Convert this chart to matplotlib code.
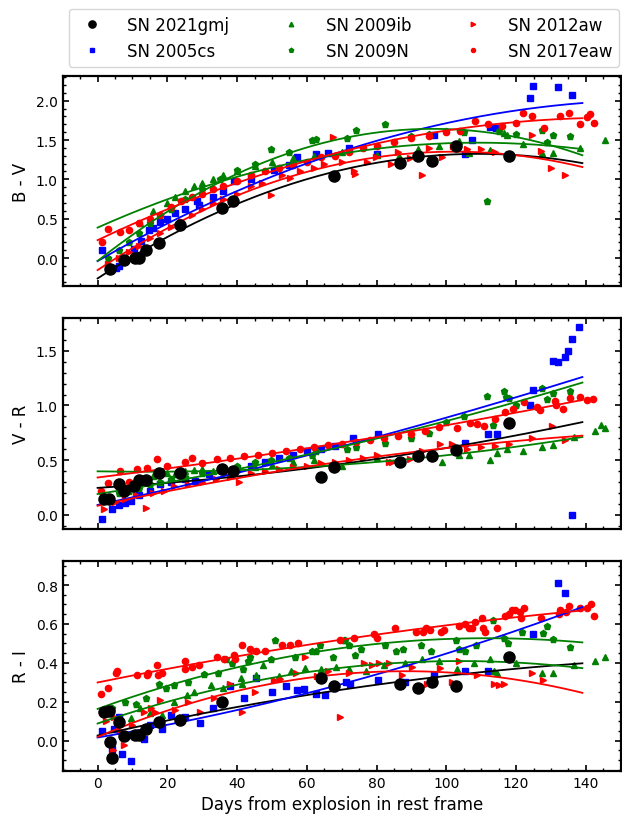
import numpy as np
import matplotlib
matplotlib.use("Agg")
import matplotlib.pyplot as plt
from matplotlib.ticker import AutoMinorLocator, MultipleLocator

# ---------------- data ----------------
names = ["SN 2021gmj", "SN 2005cs", "SN 2009ib", "SN 2009N", "SN 2012aw", "SN 2017eaw"]
colors = ["black", "blue", "green", "green", "red", "red"]
markers = ["o", "s", "^", "p", ">", "o"]

# SN 2021gmj
t_gmj_bv = [3.5, 7.5, 10.6, 11.8, 13.8, 17.6, 23.6, 35.6, 38.7, 67.7, 86.8, 91.8, 95.8, 102.8, 117.9]
bv_gmj = [-0.14, -0.03, 0.0, 0.0, 0.10, 0.19, 0.42, 0.63, 0.72, 1.04, 1.21, 1.30, 1.23, 1.43, 1.30]
t_gmj_vr = [1.8, 3.2, 6.1, 7.5, 10.4, 11.8, 13.8, 17.6, 23.6, 35.6, 38.7, 64.2, 67.7, 86.8, 91.8, 95.8, 102.8, 117.9]
vr_gmj = [0.147, 0.147, 0.285, 0.22, 0.26, 0.32, 0.32, 0.38, 0.38, 0.42, 0.40, 0.35, 0.44, 0.48, 0.54, 0.54, 0.59, 0.84]
t_gmj_ri = [1.8, 3.2, 3.5, 4.0, 6.1, 7.5, 10.6, 11.8, 13.8, 17.6, 23.6, 35.6, 64.2, 67.7, 86.8, 91.8, 95.8, 102.8, 117.9]
ri_gmj = [0.146, 0.155, -0.007, -0.088, 0.095, 0.024, 0.027, 0.027, 0.058, 0.095, 0.109, 0.20, 0.32, 0.28, 0.29, 0.27, 0.30, 0.28, 0.43]

# SN 2005cs
t_05cs_bv = [1.3, 5.2, 6.1, 8.0, 10.5, 12.5, 14.7, 16.0, 18.0, 20.0, 22.3, 25.0, 28.5, 29.0, 33.0, 36.0, 39.0,
             44.0, 50.5, 55.0, 57.2, 62.5, 66.0, 72.0, 80.0, 96.4, 105.4, 107.3, 112.6, 114.2, 123.9, 124.8, 132.0, 135.9]
bv_05cs = [0.10, -0.13, -0.10, -0.02, 0.12, 0.22, 0.35, 0.38, 0.46, 0.50, 0.57, 0.62, 0.72, 0.68, 0.78, 0.85, 0.98,
           1.00, 1.12, 1.18, 1.28, 1.32, 1.33, 1.40, 1.32, 1.56, 1.32, 1.50, 1.66, 1.65, 2.04, 2.19, 2.18, 2.07]
t_05cs_vr = [1.3, 4.2, 6.1, 8, 9.5, 12, 15, 18, 21, 25, 28, 32, 36, 40, 44, 48, 52, 56, 60, 64, 68, 73.3, 80.4,
             105.4, 112, 114.5, 124, 124.8, 130.7, 132, 134, 134.9, 135.9, 136, 137.9]
vr_05cs = [-0.04, 0.05, 0.09, 0.11, 0.13, 0.18, 0.22, 0.28, 0.30, 0.33, 0.31, 0.37, 0.40, 0.42, 0.45, 0.48, 0.52, 0.55,
           0.58, 0.60, 0.63, 0.70, 0.74, 0.66, 0.74, 0.74, 1.00, 1.14, 1.41, 1.40, 1.44, 1.50, 1.61, 0.003, 1.72]
t_05cs_ri = [1.3, 4.2, 4.7, 6.0, 7.1, 9.6, 11, 13.3, 15, 18.5, 21, 25, 29.5, 33, 38.1, 42, 45.3, 50, 54, 57.2,
             59.1, 62.5, 65.3, 67.7, 71.3, 72.5, 80.4, 88, 96.4, 105.4, 112, 124.7, 132, 134]
ri_05cs = [0.05, -0.04, 0.06, 0.12, -0.07, -0.105, 0.03, 0.01, 0.08, 0.06, 0.13, 0.12, 0.09, 0.17, 0.28, 0.22, 0.32,
           0.25, 0.28, 0.26, 0.265, 0.24, 0.236, 0.27, 0.30, 0.29, 0.31, 0.30, 0.34, 0.36, 0.36, 0.55, 0.81, 0.76]

# SN 2009ib
t_09ib_bv = [12.3, 16, 20, 22.3, 25, 27.6, 30, 33, 36, 40, 45, 50, 56, 62, 70, 80, 86.3, 92, 98, 103.5,
             106.4, 112.6, 116.4, 117.4, 122, 127.4, 130.6, 138.4, 145.6]
bv_09ib = [0.44, 0.60, 0.70, 0.78, 0.85, 0.92, 0.95, 1.00, 1.05, 1.10, 1.17, 1.22, 1.27, 1.30, 1.35, 1.31, 1.30,
           1.38, 1.42, 1.49, 1.33, 1.37, 1.59, 1.56, 1.45, 1.34, 1.34, 1.40, 1.50]
t_09ib_vr = [12.3, 16, 20, 22.3, 25, 27.6, 30, 33, 36, 40, 45, 50, 56, 62, 70, 80, 86.3, 92, 98.8, 103.5,
             106.4, 112.6, 114.5, 117.4, 122, 127.4, 130.6, 136.5, 142.7, 144.4, 145.6]
vr_09ib = [0.33, 0.36, 0.38, 0.37, 0.40, 0.41, 0.42, 0.40, 0.43, 0.45, 0.44, 0.46, 0.48, 0.50, 0.45, 0.52, 0.50,
           0.53, 0.48, 0.55, 0.55, 0.50, 0.57, 0.60, 0.58, 0.62, 0.64, 0.71, 0.77, 0.82, 0.79]
t_09ib_ri = [9.5, 12.3, 15, 18.6, 22, 25.7, 27.6, 32.4, 36, 41, 41.5, 45.5, 47.5, 52, 55.5, 59.6, 64, 68.5, 72,
             77, 82, 88, 93, 98, 103, 108, 112.6, 113.6, 114.5, 120, 127.4, 130.6, 136.5, 142.7, 145.6]
ri_09ib = [0.117, 0.17, 0.14, 0.13, 0.20, 0.236, 0.25, 0.286, 0.27, 0.32, 0.29, 0.34, 0.39, 0.33, 0.36, 0.376,
           0.37, 0.38, 0.37, 0.36, 0.39, 0.40, 0.42, 0.41, 0.37, 0.40, 0.42, 0.36, 0.35, 0.40, 0.35, 0.35, 0.39,
           0.41, 0.43]

# SN 2009N
t_09N_bv = [3, 6, 9, 12, 15, 18, 21, 25, 30, 35, 40, 45, 49.6, 55, 61.5, 62.5, 71.5, 74, 82.5, 90, 95, 100,
            105, 111.7, 115, 120, 127.5, 128.9, 130.6, 135.5]
bv_09N = [0.0, 0.10, 0.20, 0.32, 0.45, 0.55, 0.62, 0.75, 0.88, 1.00, 1.12, 1.20, 1.39, 1.35, 1.50, 1.51, 1.53,
          1.63, 1.71, 1.55, 1.58, 1.62, 1.60, 0.73, 1.62, 1.58, 1.63, 1.48, 1.56, 1.55]
t_09N_vr = [3, 6, 9, 12, 15, 18, 21, 25, 30, 35, 40, 45, 49.6, 55, 61.5, 62.5, 71.5, 74, 82.5, 90, 95, 100,
            105, 111.7, 113.4, 116.4, 117, 117.9, 120, 127.4, 128.9, 130.6, 135.5]
vr_09N = [0.15, 0.20, 0.22, 0.25, 0.28, 0.30, 0.33, 0.35, 0.38, 0.42, 0.45, 0.48, 0.50, 0.52, 0.55, 0.58, 0.60,
          0.62, 0.66, 0.70, 0.75, 0.85, 0.90, 1.09, 0.82, 1.13, 1.08, 1.07, 1.00, 1.16, 1.06, 1.11, 1.13]
t_09N_ri = [4, 8, 11, 14, 17.6, 19.5, 22, 26, 30.5, 34.6, 36.7, 38.6, 41.7, 43, 43.6, 49.6, 51, 56.6, 61.5,
            62.5, 63.7, 67.5, 70.6, 70.8, 72, 73.9, 75.5, 82.5, 85.7, 87.6, 92.8, 95.6, 102.8, 103.5, 105.4,
            108.5, 113.4, 116.6, 117.6, 121.7, 127.6, 128.8, 130.6, 135.5]
ri_09N = [0.17, 0.20, 0.19, 0.22, 0.29, 0.27, 0.285, 0.30, 0.345, 0.35, 0.42, 0.40, 0.37, 0.41, 0.43, 0.42,
          0.52, 0.43, 0.46, 0.46, 0.49, 0.43, 0.52, 0.52, 0.49, 0.44, 0.47, 0.49, 0.46, 0.47, 0.49, 0.46,
          0.515, 0.47, 0.46, 0.49, 0.62, 0.53, 0.50, 0.56, 0.555, 0.59, 0.525, 0.48]

# SN 2012aw
t_12aw_bv = [3, 6, 9, 12, 15, 18, 21, 24, 27, 30, 33, 36, 40, 44, 47, 49.6, 53, 55.3, 58, 62, 65, 67.5, 70,
             73.5, 73.9, 77.3, 79.7, 84, 86, 89.7, 93, 95, 98.8, 102, 106, 110, 114, 118, 124.5, 127, 130, 134]
bv_12aw = [-0.08, 0.0, 0.08, 0.15, 0.25, 0.32, 0.40, 0.47, 0.55, 0.62, 0.70, 0.75, 0.82, 0.92, 0.95, 0.80, 1.05,
           1.02, 1.10, 1.15, 1.20, 1.54, 1.22, 1.10, 1.07, 1.22, 1.28, 1.20, 1.35, 1.27, 1.05, 1.40, 1.28, 1.42,
           1.38, 1.38, 1.35, 1.32, 1.56, 1.36, 1.15, 1.05]
t_12aw_vr = [1.8, 5, 8, 11, 13.8, 16, 19, 22, 26, 30, 34, 38, 40.5, 44, 48, 52, 56, 60, 64, 68, 72, 76, 80,
             83.5, 84.4, 89.7, 93, 98.3, 101.6, 106, 110, 114, 118, 124.6, 130.3, 134]
vr_12aw = [0.055, 0.12, 0.15, 0.18, 0.065, 0.20, 0.22, 0.26, 0.28, 0.30, 0.33, 0.35, 0.30, 0.38, 0.40, 0.42,
           0.44, 0.45, 0.47, 0.48, 0.50, 0.52, 0.55, 0.485, 0.485, 0.515, 0.58, 0.65, 0.65, 0.60, 0.62, 0.63,
           0.65, 0.70, 0.81, 0.68]
t_12aw_ri = [2.3, 4.4, 4.7, 6.5, 7.5, 10, 13.3, 15.2, 16.6, 18, 22.3, 26, 29.5, 33.5, 38.1, 41.5, 45, 50.5,
             52.4, 57, 59.6, 63, 66, 69.4, 72, 76.3, 78.7, 80.6, 83.5, 87.3, 90.2, 94.5, 98.3, 101.6, 103.5,
             108.8, 113.6, 115, 116.4, 124.6, 127.6]
ri_12aw = [0.10, -0.05, 0.12, 0.05, -0.02, 0.08, 0.15, 0.17, 0.15, 0.21, 0.16, 0.20, 0.15, 0.22, 0.29, 0.15,
           0.25, 0.31, 0.316, 0.35, 0.43, 0.33, 0.36, 0.12, 0.35, 0.40, 0.39, 0.40, 0.40, 0.34, 0.38, 0.29,
           0.375, 0.30, 0.41, 0.34, 0.29, 0.285, 0.29, 0.35, 0.31]

# SN 2017eaw
t_17eaw_bv = [1.3, 3.0, 6.5, 9, 12, 15, 18, 21, 24, 27, 30, 33, 36, 40, 44, 48, 52, 56, 60, 64, 68, 72, 76,
              80, 85, 90, 95, 100, 104, 108.3, 112, 116, 120, 122, 124.5, 128, 132.5, 135.3, 138.4, 140.3,
              141.3, 142.4]
bv_17eaw = [0.20, 0.37, 0.33, 0.36, 0.45, 0.50, 0.55, 0.65, 0.72, 0.78, 0.82, 0.88, 0.92, 0.98, 1.05, 1.10,
            1.15, 1.18, 1.22, 1.28, 1.30, 1.35, 1.40, 1.42, 1.48, 1.52, 1.55, 1.60, 1.62, 1.74, 1.70, 1.68,
            1.72, 1.85, 1.80, 1.65, 1.80, 1.84, 1.70, 1.79, 1.83, 1.72]
t_17eaw_vr = [0.9, 3.0, 6.5, 9, 11.2, 14.2, 17.1, 20, 25, 27, 30, 34.3, 38, 42, 46, 50, 54, 58, 62, 66, 70,
              74, 78, 82, 86, 90, 94, 98, 103, 106.9, 108.8, 110.7, 114, 116.9, 119, 122.2, 126, 126.9, 131.2,
              131.5, 133.3, 135.5, 138.4, 140.3, 142]
vr_17eaw = [0.22, 0.29, 0.40, 0.30, 0.42, 0.43, 0.51, 0.45, 0.48, 0.52, 0.47, 0.51, 0.52, 0.54, 0.55, 0.57,
            0.58, 0.60, 0.62, 0.64, 0.65, 0.67, 0.68, 0.70, 0.72, 0.74, 0.77, 0.80, 0.79, 0.84, 0.83, 0.81,
            0.88, 0.94, 0.97, 1.03, 0.99, 0.96, 1.04, 1.00, 0.97, 1.07, 1.08, 1.05, 1.06]
t_17eaw_ri = [1.1, 3.1, 5.2, 5.6, 11.2, 14.2, 14.6, 17.1, 17.4, 18.5, 25.0, 25.2, 27.1, 29.0, 34.3, 36.2, 39.0,
              39.5, 41.5, 43.6, 45.5, 47.9, 52.9, 55.3, 57.4, 69.4, 73.4, 79.2, 80.1, 85.2, 91.4, 93.3, 94.3,
              95.4, 98.5, 99.2, 103.5, 105.4, 106.4, 107.3, 108.3, 110.2, 110.5, 111.2, 114.5, 116.9, 117.9,
              118.8, 119.8, 121.2, 121.4, 122.2, 127.2, 132.2, 132.5, 134.3, 135.2, 138.4, 140.3, 141.5, 142.4]
ri_17eaw = [0.24, 0.27, 0.35, 0.36, 0.34, 0.34, 0.35, 0.39, 0.34, 0.35, 0.41, 0.37, 0.38, 0.39, 0.43, 0.42,
            0.44, 0.42, 0.49, 0.47, 0.46, 0.46, 0.49, 0.49, 0.50, 0.52, 0.53, 0.55, 0.53, 0.58, 0.56, 0.56,
            0.58, 0.57, 0.56, 0.57, 0.59, 0.60, 0.58, 0.58, 0.61, 0.63, 0.58, 0.56, 0.58, 0.64, 0.65, 0.67,
            0.67, 0.66, 0.63, 0.68, 0.63, 0.65, 0.67, 0.66, 0.69, 0.68, 0.68, 0.70, 0.64]

panels = [
    ("B - V", [(t_gmj_bv, bv_gmj), (t_05cs_bv, bv_05cs), (t_09ib_bv, bv_09ib), (t_09N_bv, bv_09N),
               (t_12aw_bv, bv_12aw), (t_17eaw_bv, bv_17eaw)]),
    ("V - R", [(t_gmj_vr, vr_gmj), (t_05cs_vr, vr_05cs), (t_09ib_vr, vr_09ib), (t_09N_vr, vr_09N),
               (t_12aw_vr, vr_12aw), (t_17eaw_vr, vr_17eaw)]),
    ("R - I", [(t_gmj_ri, ri_gmj), (t_05cs_ri, ri_05cs), (t_09ib_ri, ri_09ib), (t_09N_ri, ri_09N),
               (t_12aw_ri, ri_12aw), (t_17eaw_ri, ri_17eaw)]),
]
ylims = [(-0.36, 2.31), (-0.128, 1.796), (-0.154, 0.922)]
fit_range = (0, 139)

# ---------------- figure ----------------
fig = plt.figure(figsize=(6.22, 8.2), dpi=100)
boxes = [(0.1008, 0.6496, 0.8972, 0.2561), (0.1008, 0.3537, 0.8972, 0.2569), (0.1008, 0.0589, 0.8972, 0.2554)]
axes = [fig.add_axes(b) for b in boxes]

xx = np.linspace(fit_range[0], fit_range[1], 200)
handles = []
for ax, (ylabel, series), ylim in zip(axes, panels, ylims):
    for i, ((t, v), name, c, m) in enumerate(zip(series, names, colors, markers)):
        ms = 8 if i == 0 else (5 if m in ("^", ">", "p") else 4.5)
        z = 5 if i == 0 else 3
        h, = ax.plot(t, v, ls="none", marker=m, ms=ms, color=c, mec=c, zorder=z, label=name)
        coef = np.polyfit(np.asarray(t, float), np.asarray(v, float), 2)
        ax.plot(xx, np.polyval(coef, xx), color=c, lw=1.3, zorder=4)
        if ax is axes[0]:
            handles.append(h)
    ax.set_xlim(-10, 150)
    ax.set_ylim(*ylim)
    ax.set_ylabel(ylabel, fontsize=12)
    ax.xaxis.set_major_locator(MultipleLocator(20))
    ax.xaxis.set_minor_locator(AutoMinorLocator())
    ax.yaxis.set_minor_locator(AutoMinorLocator())
    ax.tick_params(which="both", direction="in", top=True, right=True, labelsize=10)
    ax.tick_params(which="major", length=4.5, width=1.2)
    ax.tick_params(which="minor", length=2.5, width=1.0)
    for s in ax.spines.values():
        s.set_linewidth(1.6)
    if ax is not axes[-1]:
        ax.tick_params(labelbottom=False)

axes[0].yaxis.set_major_locator(MultipleLocator(0.5))
axes[1].yaxis.set_major_locator(MultipleLocator(0.5))
axes[2].yaxis.set_major_locator(MultipleLocator(0.2))
axes[-1].set_xlabel("Days from explosion in rest frame", fontsize=12)

fig.legend(handles, names, loc="upper center",
           bbox_to_anchor=(0.553, 0.998), ncol=3, fontsize=12, markerscale=0.65,
           columnspacing=2.7, handletextpad=1.1, handlelength=2.0)

fig.savefig("out.png", dpi=100)
